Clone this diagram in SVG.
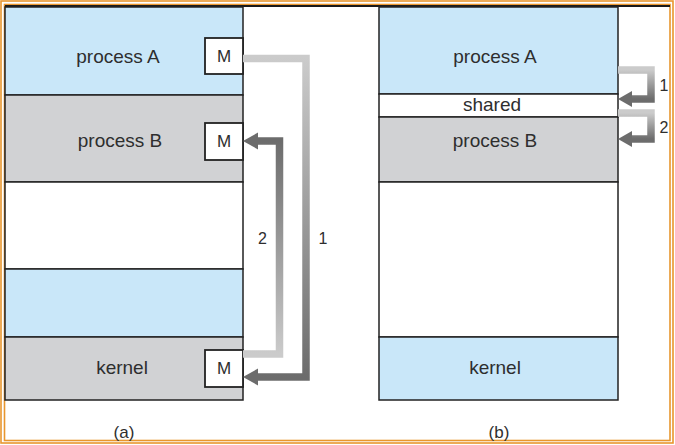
<svg xmlns="http://www.w3.org/2000/svg" width="675" height="445" viewBox="0 0 675 445">
<defs>
<style>
.t{font-family:"Liberation Sans",Arial,sans-serif;fill:#2e2e2e;text-anchor:middle}
.big{font-size:19px}
.m{font-size:17px}
.n{font-size:16px}
.blue{fill:#c9e7f9;stroke:#222;stroke-width:1.5}
.grey{fill:#d1d2d4;stroke:#222;stroke-width:1.5}
.white{fill:#ffffff;stroke:#222;stroke-width:1.5}
.mbox{fill:#ffffff;stroke:#222;stroke-width:1.8}
.shaft{fill:none;stroke-width:7.5;stroke-linejoin:miter}
.head{fill:#6c6c6c}
</style>
<linearGradient id="g1" gradientUnits="userSpaceOnUse" x1="0" y1="58" x2="0" y2="377">
<stop offset="0" stop-color="#cbcbcb"/><stop offset="1" stop-color="#6c6c6c"/>
</linearGradient>
<linearGradient id="g2" gradientUnits="userSpaceOnUse" x1="0" y1="354" x2="0" y2="141">
<stop offset="0" stop-color="#cbcbcb"/><stop offset="1" stop-color="#6c6c6c"/>
</linearGradient>
<linearGradient id="g3" gradientUnits="userSpaceOnUse" x1="0" y1="70" x2="0" y2="99">
<stop offset="0" stop-color="#cbcbcb"/><stop offset="1" stop-color="#6c6c6c"/>
</linearGradient>
<linearGradient id="g4" gradientUnits="userSpaceOnUse" x1="0" y1="113" x2="0" y2="139">
<stop offset="0" stop-color="#cbcbcb"/><stop offset="1" stop-color="#6c6c6c"/>
</linearGradient>
</defs>
<rect x="0" y="0" width="675" height="445" fill="#ffffff"/>
<g id="frame">
<rect x="1" y="1" width="672" height="442" fill="none" stroke="#e8962e" stroke-width="1.6"/>
<rect x="4.5" y="4.5" width="665.5" height="436" fill="none" stroke="#e8962e" stroke-width="1.6"/>
<line x1="5" y1="6" x2="670" y2="6" stroke="#1a1a1a" stroke-width="2"/>
</g>
<g id="panel-a">
<g id="a-processA"><rect class="blue" x="5" y="7" width="238" height="88"/><text class="t big" x="118" y="63">process A</text></g>
<g id="a-processB"><rect class="grey" x="5" y="95" width="238" height="87"/><text class="t big" x="120" y="147">process B</text></g>
<g id="a-free"><rect class="white" x="5" y="182" width="238" height="87"/></g>
<g id="a-blue"><rect class="blue" x="5" y="269" width="238" height="68"/></g>
<g id="a-kernel"><rect class="grey" x="5" y="337" width="238" height="63"/><text class="t big" x="122" y="374">kernel</text></g>
<g id="a-mA"><rect class="mbox" x="205" y="38" width="38" height="36"/><text class="t m" x="224" y="62">M</text></g>
<g id="a-mB"><rect class="mbox" x="205" y="123" width="38" height="37"/><text class="t m" x="224" y="147">M</text></g>
<g id="a-mK"><rect class="mbox" x="205" y="350" width="38" height="37"/><text class="t m" x="224" y="374">M</text></g>
</g>
<g id="panel-b">
<g id="b-processA"><rect class="blue" x="379" y="7" width="239" height="87"/><text class="t big" x="495" y="63">process A</text></g>
<g id="b-shared"><rect class="white" x="379" y="94" width="239" height="23"/><text class="t big" x="492" y="111">shared</text></g>
<g id="b-processB"><rect class="grey" x="379" y="117" width="239" height="65"/><text class="t big" x="495" y="147">process B</text></g>
<g id="b-free"><rect class="white" x="379" y="182" width="239" height="155"/></g>
<g id="b-kernel"><rect class="blue" x="379" y="337" width="239" height="63"/><text class="t big" x="495" y="374">kernel</text></g>
</g>
<g id="connectors">
<path class="shaft" stroke="url(#g1)" d="M243 58.5 H306 V377 H256"/>
<polygon class="head" points="243,377 258,368.5 258,385.5"/>
<path class="shaft" stroke="url(#g2)" d="M243 354 H279.5 V141 H256"/>
<polygon class="head" points="243,141 258,132.5 258,149.5"/>
<path class="shaft" stroke="url(#g3)" stroke-width="7" d="M618 70 H651 V99 H630"/>
<polygon class="head" points="618,99 632,91 632,107"/>
<path class="shaft" stroke="url(#g4)" stroke-width="7" d="M618 113 H651 V139 H630"/>
<polygon class="head" points="618,139 632,131 632,147"/>
<text class="t n" x="262.5" y="243.5">2</text>
<text class="t n" x="323" y="243.5">1</text>
<text class="t n" x="664" y="91">1</text>
<text class="t n" x="664" y="133">2</text>
</g>
<g id="captions">
<text class="t m" x="124" y="438">(a)</text>
<text class="t m" x="499" y="438">(b)</text>
</g>
</svg>
